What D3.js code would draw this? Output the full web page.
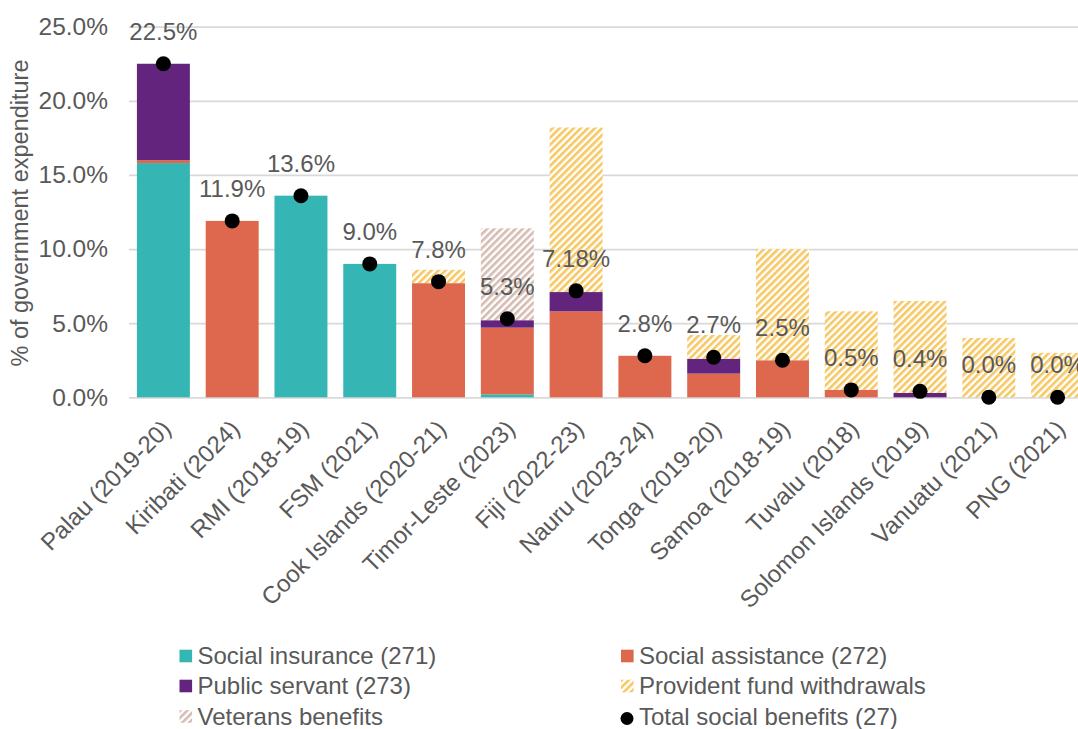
<!DOCTYPE html>
<html>
<head>
<meta charset="utf-8">
<script src="https://cdn.jsdelivr.net/npm/d3@7/dist/d3.min.js"></script>
<style>
  html, body { margin: 0; padding: 0; background: #fff; overflow: hidden; }
  svg { display: block; }
  text { font-family: "Liberation Sans", Arial, sans-serif; fill: #595959; }
</style>
</head>
<body>
<svg id="chart" width="1078" height="729"></svg>
<script>
// Social benefits by type, % of government expenditure
const categories = ["Palau (2019-20)", "Kiribati (2024)", "RMI (2018-19)", "FSM (2021)",
  "Cook Islands (2020-21)", "Timor-Leste (2023)", "Fiji (2022-23)", "Nauru (2023-24)",
  "Tonga (2019-20)", "Samoa (2018-19)", "Tuvalu (2018)", "Solomon Islands (2019)",
  "Vanuatu (2021)", "PNG (2021)"];
const socialInsurance  = [15.8, 0, 13.6, 9.0, 0, 0.2, 0, 0, 0, 0, 0, 0, 0, 0];
const socialAssistance = [0.2, 11.9, 0, 0, 7.7, 4.5, 5.8, 2.8, 1.6, 2.5, 0.5, 0, 0, 0];
const publicServant    = [6.5, 0, 0, 0, 0, 0.5, 1.3, 0, 1.0, 0, 0, 0.3, 0, 0];
const providentFund    = [0, 0, 0, 0, 0.9, 0, 11.1, 0, 1.6, 7.5, 5.3, 6.2, 4.0, 3.0];
const veterans         = [0, 0, 0, 0, 0, 6.2, 0, 0, 0, 0, 0, 0, 0, 0];
const totalBenefits    = [22.5, 11.9, 13.6, 9.0, 7.8, 5.3, 7.18, 2.8, 2.7, 2.5, 0.5, 0.4, 0.0, 0.0];
const totalLabels      = ["22.5%", "11.9%", "13.6%", "9.0%", "7.8%", "5.3%", "7.18%", "2.8%",
  "2.7%", "2.5%", "0.5%", "0.4%", "0.0%", "0.0%"];
const yTicks = [0, 5, 10, 15, 20, 25];

const seriesNames = ["Social insurance (271)", "Social assistance (272)", "Public servant (273)",
  "Provident fund withdrawals", "Veterans benefits"];
const seriesValues = [socialInsurance, socialAssistance, publicServant, providentFund, veterans];

const svg = d3.select("#chart");
const defs = svg.append("defs");

function hatch(id, color) {
  const p = defs.append("pattern")
    .attr("id", id)
    .attr("patternUnits", "userSpaceOnUse")
    .attr("width", 5).attr("height", 5)
    .attr("patternTransform", "rotate(45)");
  p.append("rect").attr("width", 5).attr("height", 5).attr("fill", "#fff");
  p.append("rect").attr("width", 2.6).attr("height", 5).attr("fill", color);
}
hatch("hatch-pf", "#F6C864");
hatch("hatch-vet", "#D5BCB2");

const fills = ["#35B5B3", "#DD684D", "#63247E", "url(#hatch-pf)", "url(#hatch-vet)"];

const plot = { left: 129, right: 1092, top: 26.7, bottom: 397.3 };

const x = d3.scaleBand().domain(categories).range([plot.left, plot.right]).paddingInner(0.23).paddingOuter(0.115);
const y = d3.scaleLinear().domain([0, 25]).range([plot.bottom, plot.top]);

// gridlines
const grid = svg.append("g")
  .attr("transform", `translate(${plot.left},0)`)
  .call(d3.axisLeft(y).tickValues(yTicks).tickSize(-(plot.right - plot.left)).tickFormat(""));
grid.select(".domain").remove();
grid.selectAll("line").attr("stroke", "#D9D9D9").attr("stroke-width", 1.8);

// y tick labels
const yAxis = svg.append("g")
  .attr("transform", `translate(108,0)`)
  .call(d3.axisLeft(y).tickValues(yTicks).tickSize(0).tickPadding(0).tickFormat(d => d.toFixed(1) + "%"));
yAxis.select(".domain").remove();
yAxis.selectAll("text").attr("font-size", 24.5).attr("fill", "#595959")
  .attr("font-family", "Liberation Sans, Arial, sans-serif");

// y axis title
svg.append("text")
  .attr("transform", `translate(28,213) rotate(-90)`)
  .attr("text-anchor", "middle")
  .attr("font-size", 23.5)
  .text("% of government expenditure");

// stacked bars
const rows = categories.map((c, i) => {
  const r = { cat: c };
  seriesNames.forEach((s, k) => r[s] = seriesValues[k][i]);
  return r;
});
const stacked = d3.stack().keys(seriesNames)(rows);

svg.append("g").selectAll("g")
  .data(stacked)
  .join("g")
  .attr("fill", (d, i) => fills[i])
  .selectAll("rect")
  .data(d => d.filter(p => p[1] - p[0] > 0))
  .join("rect")
  .attr("x", d => x(d.data.cat))
  .attr("width", x.bandwidth())
  .attr("y", d => y(d[1]))
  .attr("height", d => y(d[0]) - y(d[1]));

// total markers
svg.append("g").selectAll("circle")
  .data(totalBenefits)
  .join("circle")
  .attr("cx", (d, i) => x(categories[i]) + x.bandwidth() / 2)
  .attr("cy", d => y(d))
  .attr("r", 7.5)
  .attr("fill", "#000");

// total labels
svg.append("g").selectAll("text")
  .data(totalBenefits)
  .join("text")
  .attr("x", (d, i) => x(categories[i]) + x.bandwidth() / 2)
  .attr("y", d => y(d) - 24)
  .attr("text-anchor", "middle")
  .attr("font-size", 24)
  .text((d, i) => totalLabels[i]);

// category labels
svg.append("g").selectAll("text")
  .data(categories)
  .join("text")
  .attr("transform", d => `translate(${x(d) + x.bandwidth() / 2 + 9},${plot.bottom + 33}) rotate(-45)`)
  .attr("text-anchor", "end")
  .attr("font-size", 24)
  .text(d => d);

// legend
const legendItems = [
  { name: seriesNames[0], fill: fills[0], col: 0, row: 0 },
  { name: seriesNames[1], fill: fills[1], col: 1, row: 0 },
  { name: seriesNames[2], fill: fills[2], col: 0, row: 1 },
  { name: seriesNames[3], fill: fills[3], col: 1, row: 1 },
  { name: seriesNames[4], fill: fills[4], col: 0, row: 2 },
  { name: "Total social benefits (27)", dot: true, col: 1, row: 2 }
];
const colX = [179.5, 621];
const rowY = [656, 686, 716.5];
const lg = svg.append("g").selectAll("g")
  .data(legendItems)
  .join("g")
  .attr("transform", d => `translate(${colX[d.col]},${rowY[d.row]})`);
lg.filter(d => !d.dot).append("rect")
  .attr("x", 0).attr("y", -6.3).attr("width", 12.6).attr("height", 12.6)
  .attr("fill", d => d.fill);
lg.filter(d => d.dot).append("circle")
  .attr("cx", 6).attr("cy", 2).attr("r", 6.5).attr("fill", "#000");
lg.append("text")
  .attr("x", 18)
  .attr("y", 8)
  .attr("font-size", 24)
  .text(d => d.name);
</script>
</body>
</html>
